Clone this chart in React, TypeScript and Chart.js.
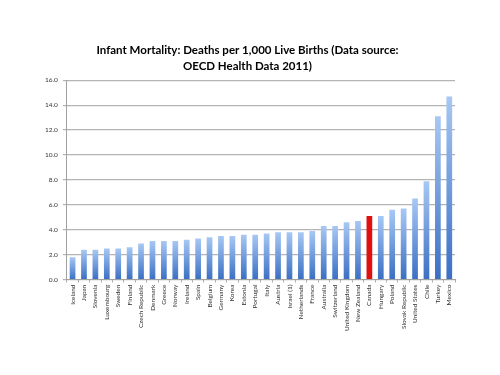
import React, { useEffect, useRef } from "react";
import { Chart, registerables } from "chart.js";

Chart.register(...registerables);

const countries = [
  "Iceland", "Japan", "Slovenia", "Luxembourg", "Sweden", "Finland", "Czech Republic",
  "Denmark", "Greece", "Norway", "Ireland", "Spain", "Belgium", "Germany", "Korea",
  "Estonia", "Portugal", "Italy", "Austria", "Israel (1)", "Netherlands", "France",
  "Australia", "Switzerland", "United Kingdom", "New Zealand", "Canada", "Hungary",
  "Poland", "Slovak Republic", "United States", "Chile", "Turkey", "Mexico",
];

const deathsPer1000 = [
  1.8, 2.4, 2.4, 2.5, 2.5, 2.6, 2.9,
  3.1, 3.1, 3.1, 3.2, 3.3, 3.4, 3.5, 3.5,
  3.6, 3.6, 3.7, 3.8, 3.8, 3.8, 3.9,
  4.3, 4.3, 4.6, 4.7, 5.1, 5.1,
  5.6, 5.7, 6.5, 7.9, 13.1, 14.7,
];

const highlighted = "Canada";

const titleLines = [
  "Infant Mortality: Deaths per 1,000 Live Births (Data source:",
  "OECD Health Data 2011)",
];

const yMin = 0;
const yMax = 16;
const yStep = 2;

export default function App() {
  const ref = useRef<HTMLCanvasElement | null>(null);

  useEffect(() => {
    document.body.style.margin = "0";
    const canvas = ref.current;
    if (!canvas) return;
    const chart = new Chart(canvas, {
      type: "bar",
      data: {
        labels: countries,
        datasets: [
          {
            data: deathsPer1000,
            backgroundColor: (ctx: any) => {
              const c = ctx.chart;
              const name = countries[ctx.dataIndex];
              if (name === highlighted) return "#e01010";
              const area = c.chartArea;
              const ys = c.scales && c.scales.y;
              if (!area || !ys) return "#6d9be0";
              const v = deathsPer1000[ctx.dataIndex];
              const top = ys.getPixelForValue(v);
              const bottom = ys.getPixelForValue(0);
              const g = c.ctx.createLinearGradient(0, top, 0, bottom);
              g.addColorStop(0, "#a8c8f4");
              g.addColorStop(1, "#3a6fc4");
              return g;
            },
            borderWidth: 0,
            categoryPercentage: 1,
            barPercentage: 0.5,
          },
        ],
      },
      options: {
        animation: false,
        responsive: false,
        maintainAspectRatio: false,
        layout: { padding: { top: 42, left: 40, right: 45, bottom: 42 } },
        plugins: {
          legend: { display: false },
          tooltip: { enabled: false },
          title: {
            display: true,
            text: titleLines,
            color: "#000",
            font: { family: "Lato", size: 11.5, weight: "bold", lineHeight: 1.4 },
            padding: { top: 0, bottom: 6 },
          },
        },
        scales: {
          x: {
            grid: {
              display: true,
              drawOnChartArea: false,
              drawTicks: true,
              tickLength: 3,
              color: "#b0b0b0",
            },
            border: { display: true, color: "#a0a0a0", width: 1 },
            ticks: {
              autoSkip: false,
              minRotation: 90,
              maxRotation: 90,
              padding: 2,
              color: "#333",
              font: { family: "Lato", size: 6.5 },
            },
          },
          y: {
            min: yMin,
            max: yMax,
            grid: {
              color: "#b4b4b4",
              lineWidth: 1.2,
              drawTicks: true,
              tickLength: 4,
            },
            border: { display: true, color: "#a0a0a0", width: 1 },
            ticks: {
              stepSize: yStep,
              padding: 5,
              color: "#333",
              font: { family: "Lato", size: 6.5 },
              callback: (v: any) => Number(v).toFixed(1),
            },
          },
        },
      },
    });
    return () => chart.destroy();
  }, []);

  return (
    <div style={{ width: 500, height: 375, background: "#fff" }}>
      <canvas ref={ref} width={500} height={375} style={{ display: "block" }} />
    </div>
  );
}
